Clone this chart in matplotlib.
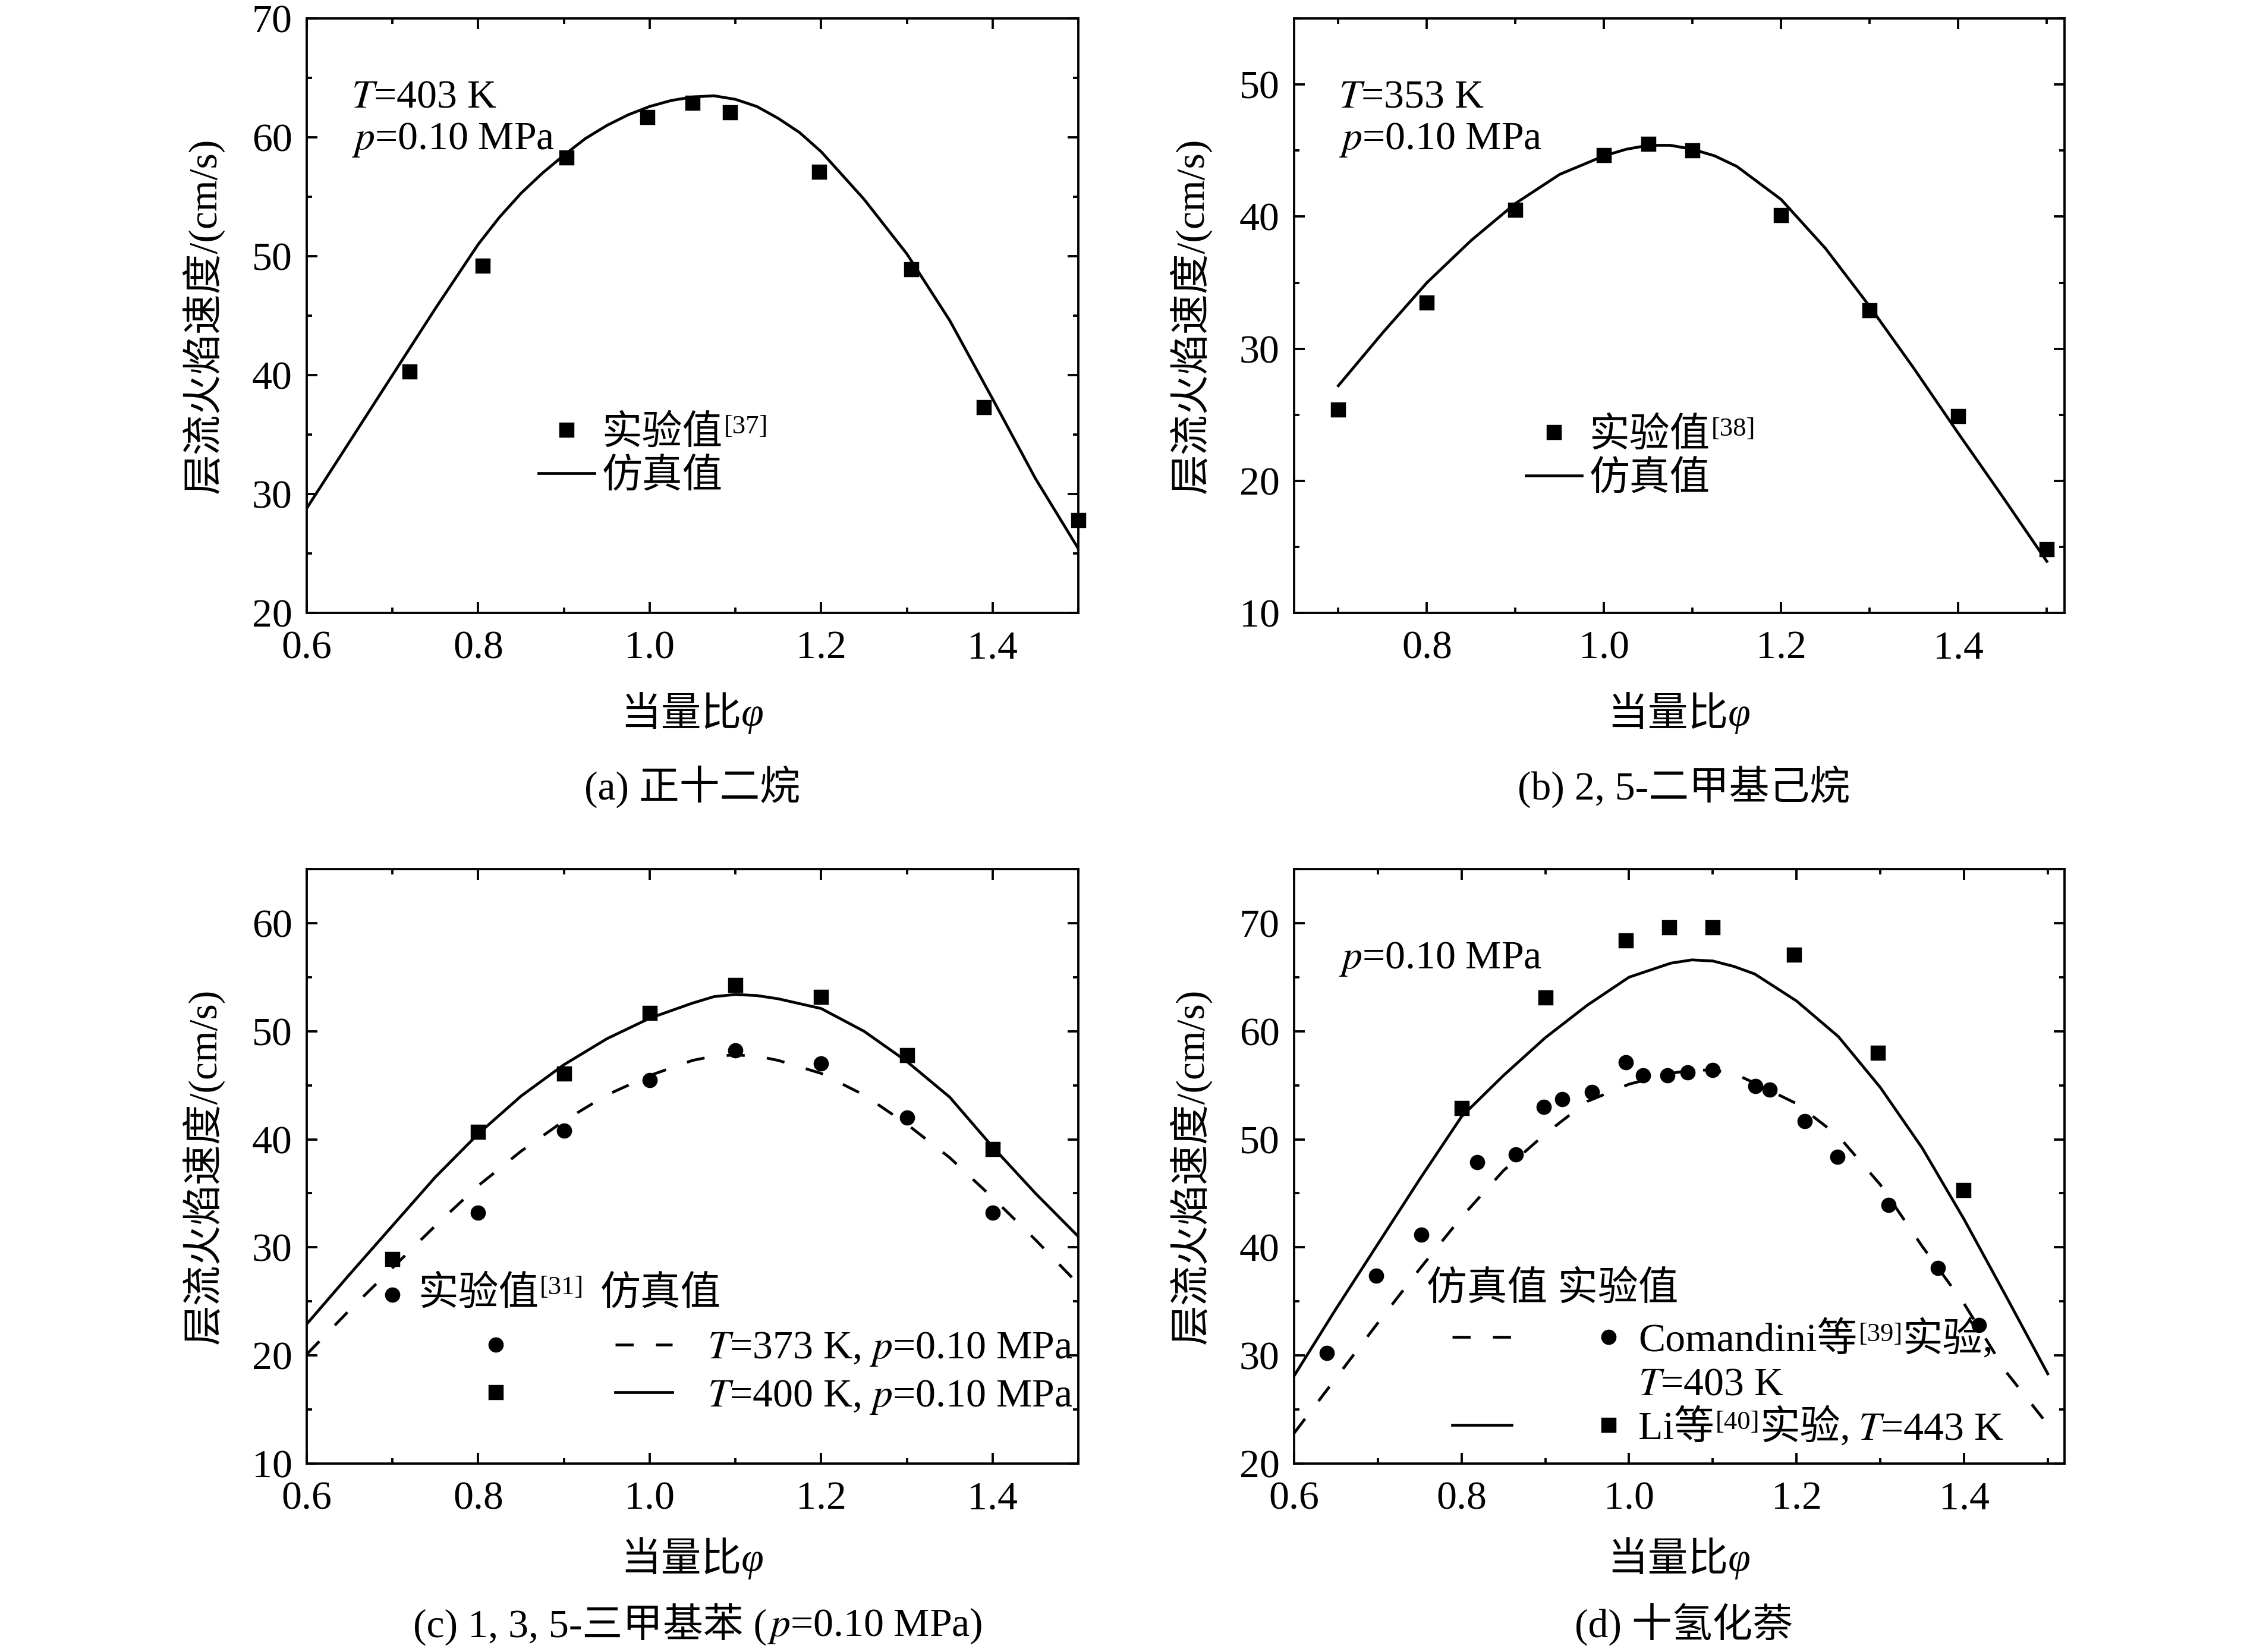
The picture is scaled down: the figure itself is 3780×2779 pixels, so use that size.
import matplotlib
matplotlib.use('Agg')
import matplotlib.pyplot as plt
from matplotlib.lines import Line2D
from matplotlib.legend_handler import HandlerTuple
from matplotlib.ticker import MultipleLocator, FormatStrFormatter

# ---- data ----
# (a) n-dodecane, T=403 K
phi_a_exp = [0.72, 0.805, 0.903, 0.997, 1.05, 1.094, 1.198, 1.305, 1.39, 1.50]
su_a_exp = [40.3, 49.2, 58.3, 61.7, 62.9, 62.1, 57.1, 48.9, 37.3, 27.8]
phi_a_sim = [0.60, 0.65, 0.70, 0.75, 0.80, 0.825, 0.85, 0.875, 0.90, 0.925,
             0.95, 0.975, 1.00, 1.025, 1.05, 1.075, 1.10, 1.125, 1.15, 1.175,
             1.20, 1.25, 1.30, 1.35, 1.40, 1.45, 1.50]
su_a_sim = [28.8, 34.4, 40.0, 45.6, 51.0, 53.3, 55.3, 57.0, 58.5, 59.9,
            61.0, 61.9, 62.6, 63.1, 63.4, 63.5, 63.2, 62.6, 61.6, 60.4,
            58.8, 54.8, 50.2, 44.6, 38.0, 31.3, 25.4]

# (b) 2,5-dimethylhexane, T=353 K
phi_b_exp = [0.70, 0.80, 0.90, 1.00, 1.05, 1.10, 1.20, 1.30, 1.40, 1.50]
su_b_exp = [25.4, 33.5, 40.5, 44.65, 45.5, 45.0, 40.1, 32.9, 24.9, 14.8]
phi_b_sim = [0.70, 0.75, 0.80, 0.85, 0.90, 0.95, 1.00, 1.025, 1.05, 1.075,
             1.10, 1.125, 1.15, 1.20, 1.25, 1.30, 1.35, 1.40, 1.45, 1.50]
su_b_sim = [27.2, 31.2, 35.0, 38.2, 41.0, 43.2, 44.6, 45.1, 45.4, 45.4,
            45.1, 44.6, 43.8, 41.3, 37.6, 33.2, 28.5, 23.6, 18.8, 13.9]

# (c) 1,3,5-trimethylbenzene
phi_c_exp = [0.70, 0.80, 0.90, 1.00, 1.10, 1.20, 1.30, 1.40]
su_c_exp_373 = [25.6, 33.2, 40.8, 45.5, 48.2, 47.0, 42.0, 33.2]
su_c_exp_400 = [28.9, 40.7, 46.1, 51.7, 54.3, 53.2, 47.8, 39.1]
phi_c_sim = [0.60, 0.65, 0.70, 0.75, 0.80, 0.85, 0.90, 0.95, 1.00, 1.05,
             1.075, 1.10, 1.125, 1.15, 1.20, 1.25, 1.30, 1.35, 1.40, 1.45,
             1.50]
su_c_sim_373 = [20.1, 24.2, 28.1, 32.0, 35.7, 38.9, 41.7, 44.1, 45.9, 47.3,
                47.7, 47.8, 47.7, 47.3, 46.1, 44.1, 41.4, 38.3, 34.6, 30.7,
                26.6]
su_c_sim_400 = [22.9, 27.5, 32.0, 36.5, 40.5, 44.0, 46.9, 49.3, 51.2, 52.6,
                53.2, 53.4, 53.3, 53.0, 52.1, 50.0, 47.2, 43.9, 39.3, 35.0,
                31.0]

# (d) decalin, p=0.10 MPa
phi_d_com = [0.639, 0.698, 0.752, 0.819, 0.865, 0.898, 0.920, 0.956, 0.996, 1.017,
             1.046, 1.070, 1.100, 1.151, 1.168, 1.210, 1.249, 1.310, 1.369, 1.418]
su_d_com = [30.2, 37.4, 41.2, 47.9, 48.6, 53.0, 53.7, 54.4, 57.1, 55.9,
            55.9, 56.2, 56.4, 54.9, 54.6, 51.7, 48.4, 43.9, 38.1, 32.8]
phi_d_li = [0.80, 0.90, 0.996, 1.048, 1.10, 1.197, 1.297, 1.399]
su_d_li = [52.9, 63.1, 68.4, 69.6, 69.6, 67.1, 58.0, 45.3]
phi_d_sim = [0.60, 0.65, 0.70, 0.75, 0.80, 0.85, 0.90, 0.95, 1.00, 1.05,
             1.075, 1.10, 1.125, 1.15, 1.20, 1.25, 1.30, 1.35, 1.40, 1.45,
             1.50]
su_d_sim_403 = [22.8, 27.9, 33.0, 38.0, 42.8, 47.1, 50.5, 53.5, 55.1, 56.1,
                56.4, 56.4, 56.1, 55.2, 53.3, 50.3, 45.8, 40.1, 34.8, 28.5,
                23.6]
su_d_sim_443 = [28.1, 34.3, 40.3, 46.3, 52.1, 55.9, 59.4, 62.4, 65.0, 66.3,
                66.6, 66.5, 66.0, 65.3, 62.8, 59.5, 54.8, 49.2, 42.6, 35.5,
                28.3]

FS = 19.5
SUP = FS * 0.66
LW = 1.35
MS = 6.4
DASH = (0, (6.5, 8))

plt.rcParams['font.family'] = ['Liberation Serif', 'Noto Sans CJK SC']
plt.rcParams['mathtext.fontset'] = 'stix'
plt.rcParams['font.size'] = FS


def add_sup(ax, base, sup, tail=None, gap=0.0):
    # superscript reference number glued to the right of a text artist,
    # optionally followed by more text on the base line
    s = ax.annotate(sup, xy=(1, 1), xycoords=base, xytext=(0.5, 0),
                    textcoords='offset points', ha='left', va='top',
                    fontsize=SUP, zorder=6)
    t = None
    if tail is not None:
        t = ax.annotate(tail, xy=(1, 0), xycoords=(s, base),
                        xytext=(gap * FS, 0), textcoords='offset points',
                        ha='left', va='bottom', fontsize=FS, zorder=6)
    return s, t


def style_axes(ax, xlim, ylim, xlab_y):
    ax.set_xlim(*xlim)
    ax.set_ylim(*ylim)
    ax.xaxis.set_major_locator(MultipleLocator(0.2))
    ax.xaxis.set_minor_locator(MultipleLocator(0.1))
    ax.yaxis.set_major_locator(MultipleLocator(10))
    ax.yaxis.set_minor_locator(MultipleLocator(5))
    ax.xaxis.set_major_formatter(FormatStrFormatter('%.1f'))
    ax.tick_params(which='both', direction='in', top=True, right=True,
                   width=1.1, labelsize=FS)
    ax.tick_params(which='major', length=5.2)
    ax.tick_params(which='minor', length=2.6)
    ax.tick_params(axis='x', pad=8.5)
    ax.tick_params(axis='y', pad=7)
    for s in ax.spines.values():
        s.set_linewidth(1.1)
    ax.set_xlabel('当量比\u03c6', fontsize=FS, fontstyle='italic')
    ax.xaxis.label.set_va('center')
    ax.xaxis.set_label_coords(0.5, xlab_y)
    ax.set_ylabel('层流火焰速度/(cm/s)', fontsize=FS)
    ax.yaxis.label.set_va('center')
    ax.yaxis.set_label_coords(-0.135, 0.5)


fig = plt.figure(figsize=(15.12, 11.116), dpi=250)
ax_a = fig.add_axes([0.1365, 0.6290, 0.3434, 0.3598])
ax_b = fig.add_axes([0.5759, 0.6290, 0.3429, 0.3598])
ax_c = fig.add_axes([0.1365, 0.1141, 0.3434, 0.3598])
ax_d = fig.add_axes([0.5759, 0.1141, 0.3429, 0.3598])

# (a)
ax = ax_a
ax.plot(phi_a_exp, su_a_exp, 's', color='k', ms=MS, clip_on=False,
        label='实验值')
ax.plot(phi_a_sim, su_a_sim, '-', color='k', lw=LW, label='仿真值')
ax.text(0.058, 0.898, '$T$=403 K\n$p$=0.10 MPa', transform=ax.transAxes,
        ha='left', va='top')
leg = ax.legend(loc='center left', bbox_to_anchor=(0.3005, 0.265),
                frameon=False, handlelength=1.39, handletextpad=0.18,
                labelspacing=0.15, borderpad=0, borderaxespad=0, numpoints=1)
add_sup(ax, leg.get_texts()[0], '[37]')
style_axes(ax, (0.6, 1.5), (20, 70), -0.169)
ax.text(0.5, -0.292, '(a) 正十二烷', transform=ax.transAxes,
        ha='center', va='center')

# (b)
ax = ax_b
ax.plot(phi_b_exp, su_b_exp, 's', color='k', ms=MS, clip_on=False,
        label='实验值')
ax.plot(phi_b_sim, su_b_sim, '-', color='k', lw=LW, label='仿真值')
ax.text(0.058, 0.898, '$T$=353 K\n$p$=0.10 MPa', transform=ax.transAxes,
        ha='left', va='top')
leg = ax.legend(loc='center left', bbox_to_anchor=(0.301, 0.261),
                frameon=False, handlelength=1.39, handletextpad=0.18,
                labelspacing=0.15, borderpad=0, borderaxespad=0, numpoints=1)
add_sup(ax, leg.get_texts()[0], '[38]')
style_axes(ax, (0.65, 1.52), (10, 55), -0.169)
ax.text(0.506, -0.292, '(b) 2, 5-二甲基己烷', transform=ax.transAxes,
        ha='center', va='center')

# (c)
ax = ax_c
ax.plot(phi_c_sim, su_c_sim_373, color='k', lw=LW, ls=DASH)
ax.plot(phi_c_sim, su_c_sim_400, color='k', lw=LW, ls='-')
ax.plot(phi_c_exp, su_c_exp_373, 'o', color='k', ms=MS)
ax.plot(phi_c_exp, su_c_exp_400, 's', color='k', ms=MS)
head = ax.text(0.144, 0.285, '实验值', transform=ax.transAxes,
               ha='left', va='center')
add_sup(ax, head, '[31]', '仿真值', gap=0.4)
h373 = (Line2D([], [], marker='o', ls='none', color='k', ms=MS),
        Line2D([], [], ls=DASH, color='k', lw=LW))
h400 = (Line2D([], [], marker='s', ls='none', color='k', ms=MS),
        Line2D([], [], ls='-', color='k', lw=LW))
ax.legend([h373, h400],
          ['$T$=373 K, $p$=0.10 MPa', '$T$=400 K, $p$=0.10 MPa'],
          handler_map={tuple: HandlerTuple(ndivide=None, pad=2.27)},
          loc='center left', bbox_to_anchor=(0.208, 0.152), frameon=False,
          handlelength=5.1, handletextpad=0.86, labelspacing=0.25,
          borderpad=0, borderaxespad=0, numpoints=1)
style_axes(ax, (0.6, 1.5), (10, 65), -0.160)
cap = ax.text(0.596, -0.270, '(c) 1, 3, 5-三甲基苯 (', transform=ax.transAxes,
              ha='right', va='center')
ax.annotate('$p$=0.10 MPa)', xy=(1, 0), xycoords=cap, ha='left',
            va='bottom', fontsize=FS)

# (d)
ax = ax_d
ax.plot(phi_d_sim, su_d_sim_403, color='k', lw=LW, ls=DASH)
ax.plot(phi_d_sim, su_d_sim_443, color='k', lw=LW, ls='-')
ax.plot(phi_d_com, su_d_com, 'o', color='k', ms=MS)
ax.plot(phi_d_li, su_d_li, 's', color='k', ms=MS)
ax.text(0.058, 0.88, '$p$=0.10 MPa', transform=ax.transAxes,
        ha='left', va='top')
ax.text(0.172, 0.293, '仿真值 实验值', transform=ax.transAxes,
        ha='left', va='center')
h_com = (Line2D([], [], ls=DASH, color='k', lw=LW),
         Line2D([], [], marker='o', ls='none', color='k', ms=MS))
h_blank = Line2D([], [], ls='none')
h_li = (Line2D([], [], ls='-', color='k', lw=LW),
        Line2D([], [], marker='s', ls='none', color='k', ms=MS))
leg = ax.legend([h_com, h_blank, h_li],
                ['Comandini等', '$T$=403 K', 'Li等'],
                handler_map={tuple: HandlerTuple(ndivide=None, pad=1.67)},
                loc='center left', bbox_to_anchor=(0.2056, 0.132),
                frameon=False, handlelength=4.62, handletextpad=0.0,
                labelspacing=0.18, borderpad=0, borderaxespad=0, numpoints=1)
lt = leg.get_texts()
add_sup(ax, lt[0], '[39]', '实验,')
s40, t40 = add_sup(ax, lt[2], '[40]', '实验,')
ax.annotate('$T$=443 K', xy=(1, 0), xycoords=t40, xytext=(0.2 * FS, 0),
            textcoords='offset points', ha='left', va='bottom',
            fontsize=FS, zorder=6)
style_axes(ax, (0.6, 1.52), (20, 75), -0.160)
ax.text(0.506, -0.270, '(d) 十氢化萘', transform=ax.transAxes,
        ha='center', va='center')

fig.savefig('out.png', dpi=250, facecolor='white')
